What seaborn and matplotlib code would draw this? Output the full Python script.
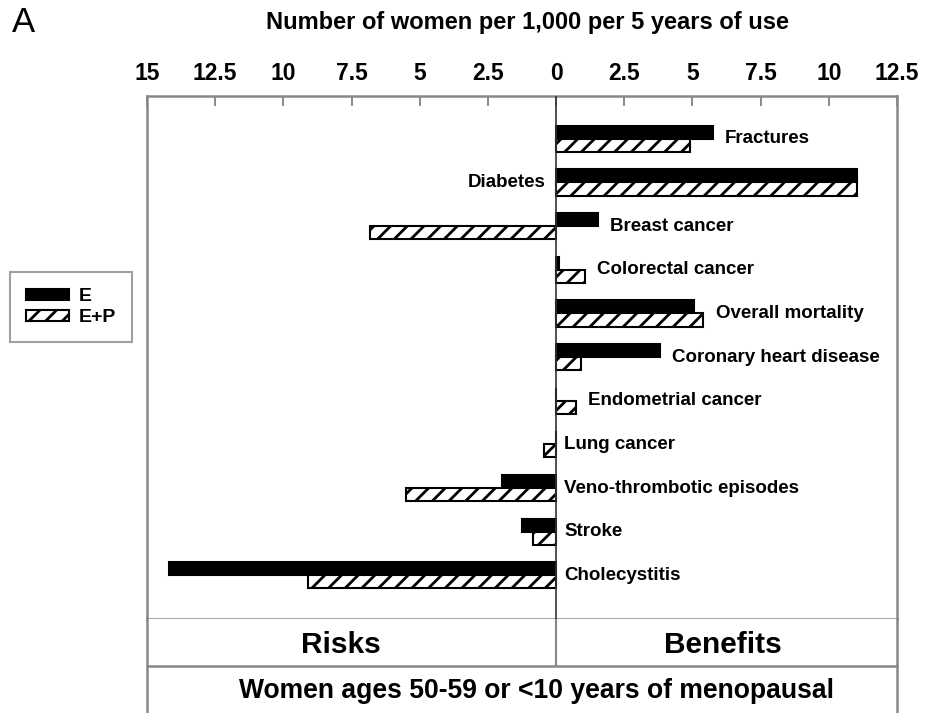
import numpy as np
import pandas as pd
import seaborn as sns
import matplotlib
matplotlib.use("Agg")
import matplotlib.pyplot as plt
from matplotlib.patches import Patch

# ---------------- data ----------------
outcomes = ["Fractures", "Diabetes", "Breast cancer", "Colorectal cancer",
            "Overall mortality", "Coronary heart disease", "Endometrial cancer",
            "Lung cancer", "Veno-thrombotic episodes", "Stroke", "Cholecystitis"]
e_values = [5.74, 11.05, 1.53, 0.1, 5.06, 3.81, 0.0, 0.0, -2.0, -1.25, -14.2]
ep_values = [4.91, 11.05, -6.82, 1.06, 5.40, 0.91, 0.73, -0.45, -5.52, -0.86, -9.1]
groups = ["E", "E+P"]
tick_values = [-15, -12.5, -10, -7.5, -5, -2.5, 0, 2.5, 5, 7.5, 10, 12.5]
tick_labels = ["15", "12.5", "10", "7.5", "5", "2.5", "0", "2.5", "5", "7.5", "10", "12.5"]
x_title = "Number of women per 1,000 per 5 years of use"
left_label = "Risks"
right_label = "Benefits"
bottom_label = "Women ages 50-59 or <10 years of menopausal"
panel_letter = "A"

df = pd.DataFrame({
    "outcome": outcomes * 2,
    "value": e_values + ep_values,
    "group": [groups[0]] * len(outcomes) + [groups[1]] * len(outcomes),
})

# ---------------- style ----------------
sns.set_style("white")
plt.rcParams["font.family"] = ["Liberation Sans", "DejaVu Sans"]
plt.rcParams["hatch.linewidth"] = 2.0
plt.rcParams["hatch.color"] = "black"
plt.rcParams["text.color"] = "black"
plt.rcParams["xtick.color"] = "#777777"
plt.rcParams["xtick.labelcolor"] = "black"

W, H = 931, 713
fig = plt.figure(figsize=(W / 100, H / 100), dpi=100)

ax_l, ax_r, ax_t, ax_b = 147, 897, 96, 619
ax = fig.add_axes([ax_l / W, 1 - ax_b / H, (ax_r - ax_l) / W, (ax_b - ax_t) / H])

sns.barplot(data=df, x="value", y="outcome", hue="group", orient="h",
            order=outcomes, hue_order=groups,
            palette={"E": "black", "E+P": "white"},
            edgecolor="black", linewidth=1.5, width=0.6,
            legend=False, ax=ax, errorbar=None)

for bar in ax.containers[1]:
    bar.set_hatch("//")

ax.set_xlim(tick_values[0], tick_values[-1])
ax.set_ylim(11.0, -0.98)
ax.axvline(0, color="#333333", lw=1.2, zorder=5)

ax.xaxis.tick_top()
ax.set_xticks(tick_values)
ax.set_xticklabels(tick_labels, fontsize=16.5, fontweight="bold", color="black")
ax.tick_params(axis="x", direction="in", length=7, width=1.2, color="#777777", pad=8)
ax.set_yticks([])
ax.set_xlabel("")
ax.set_ylabel("")
for s in ax.spines.values():
    s.set_color("#888888")
    s.set_linewidth(1.8)
    s.set_visible(True)

# category labels
for i, name in enumerate(outcomes):
    hi = max(e_values[i], ep_values[i])
    if hi > 9:
        ax.text(-0.4, i, name, ha="right", va="center", fontsize=13.5,
                fontweight="bold", color="black")
    else:
        x = hi + 0.45 if hi > 0.05 else 0.3
        ax.text(x, i, name, ha="left", va="center", fontsize=13.5,
                fontweight="bold", color="black")

# top title
fig.text(527 / W, 1 - 22 / H, x_title, ha="center", va="center",
         fontsize=17, fontweight="bold", color="black")
fig.text(12 / W, 1 - 22 / H, panel_letter, ha="left", va="center", fontsize=25,
         color="black")

# lower table
ax2 = fig.add_axes([ax_l / W, 0, (ax_r - ax_l) / W, (H - ax_b) / H])
ax2.set_xlim(tick_values[0], tick_values[-1])
ax2.set_ylim(0, 1)
ax2.set_xticks([])
ax2.set_yticks([])
ax2.spines["top"].set_visible(False)
ax2.spines["bottom"].set_visible(False)
for k in ["left", "right"]:
    ax2.spines[k].set_color("#888888")
    ax2.spines[k].set_linewidth(1.8)
ax2.axhline(0.5, color="#888888", lw=1.8)
ax2.plot([0, 0], [0.5, 1.0], color="#888888", lw=1.5)
ax2.text(-7.9, 0.72, left_label, ha="center", va="center", fontsize=21.5,
         fontweight="bold", color="black")
ax2.text(6.1, 0.72, right_label, ha="center", va="center", fontsize=21.5,
         fontweight="bold", color="black")
ax2.text(-0.7, 0.23, bottom_label, ha="center", va="center", fontsize=19.1,
         fontweight="bold", color="black")

# legend
handles = [Patch(facecolor="black", edgecolor="black", lw=1.5),
           Patch(facecolor="white", edgecolor="black", hatch="//", lw=1.5)]
leg = fig.legend(handles, groups, loc="center", bbox_to_anchor=(71 / W, 1 - 307 / H),
                 frameon=True, fancybox=False, edgecolor="#888888",
                 prop={"weight": "bold", "size": 14}, handlelength=2.2,
                 handleheight=0.5, labelspacing=0.2, borderpad=0.85,
                 handletextpad=0.5)
leg.get_frame().set_linewidth(1.5)
for t in leg.get_texts():
    t.set_color("black")

fig.savefig("out.png", dpi=100)
